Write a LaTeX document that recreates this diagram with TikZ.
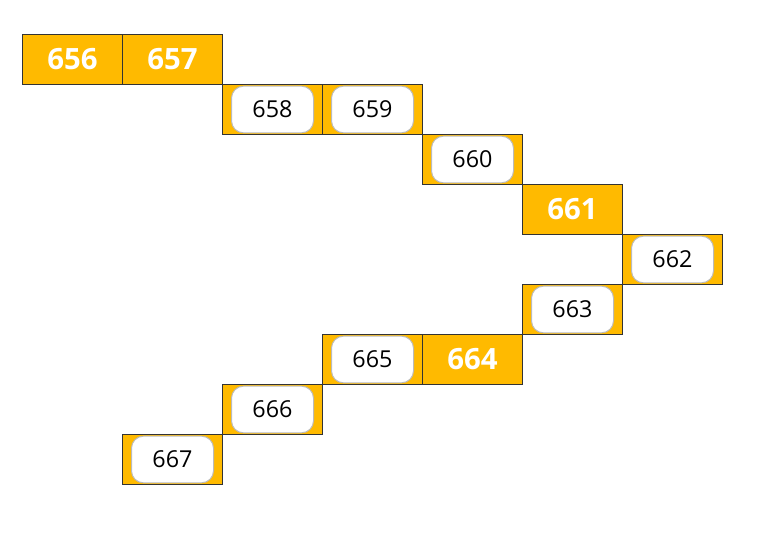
\documentclass[tikz,border=0pt]{standalone}
\usepackage{fontspec}
\setmainfont{Open Sans}
\definecolor{cellfill}{HTML}{FFBA00}
\definecolor{celldraw}{HTML}{333333}
\definecolor{pillgray}{HTML}{BBBBBB}
\begin{document}
\begin{tikzpicture}[x=0.75pt,y=-0.75pt,
  cell/.style={draw=celldraw,line width=0.75pt,fill=cellfill,minimum width=75pt,minimum height=37.5pt,inner sep=0pt,anchor=north west},
  boldlabel/.style={text=white,font=\fontsize{22}{26}\selectfont\bfseries},
  pill/.style={draw=pillgray,line width=0.75pt,fill=white,rounded corners=9pt,minimum width=61.5pt,minimum height=35pt,inner sep=0pt,font=\fontsize{17.5}{21}\selectfont,text=black}]
\useasboundingbox (0,0) rectangle (772,548);
% bold orange cells
\node[cell,boldlabel] (c656) at (22,34) {656};
\node[cell,boldlabel] (c657) at (122,34) {657};
\node[cell,boldlabel] (c661) at (522,184) {661};
\node[cell,boldlabel] (c664) at (422,334) {664};
% cells with white pills
\node[cell] (c658) at (222,84) {};
\node[cell] (c659) at (322,84) {};
\node[cell] (c660) at (422,134) {};
\node[cell] (c662) at (622,234) {};
\node[cell] (c663) at (522,284) {};
\node[cell] (c665) at (322,334) {};
\node[cell] (c666) at (222,384) {};
\node[cell] (c667) at (122,434) {};
\node[pill] (p658) at (c658.center) {658};
\node[pill] (p659) at (c659.center) {659};
\node[pill] (p660) at (c660.center) {660};
\node[pill] (p662) at (c662.center) {662};
\node[pill] (p663) at (c663.center) {663};
\node[pill] (p665) at (c665.center) {665};
\node[pill] (p666) at (c666.center) {666};
\node[pill] (p667) at (c667.center) {667};
\end{tikzpicture}
\end{document}
